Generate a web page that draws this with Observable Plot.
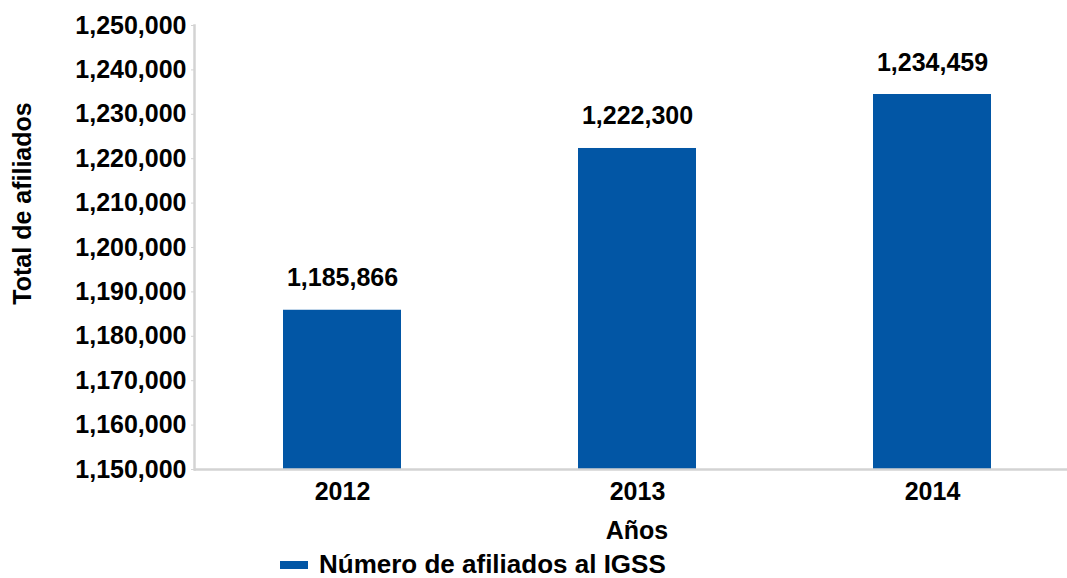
<!DOCTYPE html>
<html>
<head>
<meta charset="utf-8">
<script src="https://cdn.jsdelivr.net/npm/d3@7"></script>
<script src="https://cdn.jsdelivr.net/npm/@observablehq/plot@0.6"></script>
<style>
  html, body { margin: 0; padding: 0; background: #fff; }
  body { width: 1067px; height: 578px; overflow: hidden; font-family: "Liberation Sans", Arial, sans-serif; }
  #legend { position: relative; height: 28px; font: bold 26px "Liberation Sans", Arial, sans-serif; color: #000; }
  #legend .sw { position: absolute; left: 280px; top: 11px; width: 28px; height: 8px; background: #0256a5; }
  #legend .lb { position: absolute; left: 319px; top: 0; line-height: 28px; }
</style>
</head>
<body>
<div id="chart"></div>
<div id="legend"><span class="sw"></span><span class="lb">Número de afiliados al IGSS</span></div>
<script>
const years = ["2012", "2013", "2014"];
const afiliados = [1185866, 1222300, 1234459];
const yTicks = [1150000, 1160000, 1170000, 1180000, 1190000, 1200000, 1210000, 1220000, 1230000, 1240000, 1250000];
const seriesName = "Número de afiliados al IGSS";
const xTitle = "Años";
const yTitle = "Total de afiliados";

const data = years.map((y, i) => ({year: y, value: afiliados[i]}));
const fmt = d3.format(",");
const barColor = "#0256a5";
const axisColor = "#d3d3d3";
const font = "Liberation Sans, Arial, sans-serif";

const chart = Plot.plot({
  width: 1067,
  height: 550,
  marginLeft: 194,
  marginRight: -12,
  marginTop: 25,
  marginBottom: 81,
  style: {fontFamily: font, fontSize: "25px", fontWeight: "bold", color: "#000", background: "#fff"},
  x: {domain: years, paddingInner: 0.6, paddingOuter: 0.3, label: null},
  y: {domain: [1150000, 1250000], label: null},
  marks: [
    Plot.barY(data, {x: "year", y1: 1150000, y2: "value", fill: barColor}),
    Plot.ruleY([1150000], {stroke: axisColor, strokeWidth: 2.5}),
    Plot.frame({anchor: "left", stroke: axisColor, strokeWidth: 2.5}),
    Plot.axisY({ticks: yTicks, tickFormat: fmt, tickSize: 3, tickPadding: 5, stroke: axisColor, fill: "#000", fontSize: 25, fontWeight: "bold", label: null}),
    Plot.axisX({tickSize: 0, tickPadding: 13, fill: "#000", fontSize: 25, fontWeight: "bold", label: null}),
    Plot.text(data, {x: "year", y: "value", text: d => fmt(d.value), dy: -32, fill: "#000", fontSize: 25, fontWeight: "bold"}),
    Plot.text([xTitle], {frameAnchor: "bottom", text: d => d, dy: 69, fill: "#000", fontSize: 25, fontWeight: "bold"}),
    Plot.text([yTitle], {frameAnchor: "left", textAnchor: "middle", text: d => d, rotate: -90, dx: -172, dy: -44, fill: "#000", fontSize: 25, fontWeight: "bold"})
  ]
});
document.getElementById("chart").appendChild(chart);
</script>
</body>
</html>
